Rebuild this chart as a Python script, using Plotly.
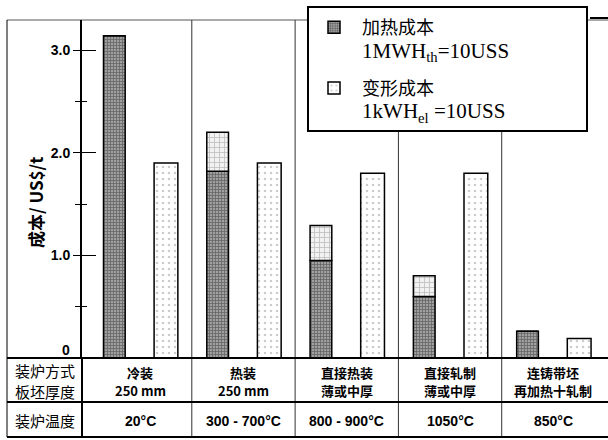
import plotly.graph_objects as go

# ---- data ----
groups = ["冷装", "热装", "直接热装", "直接轧制", "连铸带坯"]
row1_line1 = ["冷装", "热装", "直接热装", "直接轧制", "连铸带坯"]
row1_line2 = ["250 mm", "250 mm", "薄或中厚", "薄或中厚", "再加热十轧制"]
row2_temps = ["20°C", "300 - 700°C", "800 - 900°C", "1050°C", "850°C"]
row_headers = ["装炉方式", "板坯厚度", "装炉温度"]
heating_cost = [3.14, 1.82, 0.95, 0.60, 0.26]
heating_extra = [0.0, 0.38, 0.34, 0.20, 0.0]
deform_cost = [1.90, 1.90, 1.80, 1.80, 0.19]
ytick_vals = [1, 2, 3]
ytick_text = ["1.0", "2.0", "3.0"]

idx = list(range(len(groups)))
heat_x = [i - 0.25 for i in idx]
def_x = [i + 0.25 for i in idx]

W, H = 608, 440
ml, mr, mt, mb = 82, 0, 20, 82
pw, ph = W - ml - mr, H - mt - mb

def px_x(p):  # pixel x -> paper
    return (p - ml) / pw

def px_y(p):  # pixel y -> paper
    return (H - mb - p) / ph

CJK = "Noto Sans CJK SC"
SANS = "Liberation Sans"
SERIF_SPAN = "<span style=\"font-family:Liberation Serif;font-size:21px\">"

fig = go.Figure()
fig.add_trace(go.Bar(
    x=heat_x, y=heating_cost, width=0.21,
    name="&nbsp;&nbsp;加热成本<br>&nbsp;&nbsp;" + SERIF_SPAN + "1MWH<sub>th</sub>=10USS</span>",
    marker=dict(color="#8f8f8f", line=dict(color="black", width=1.5),
                pattern=dict(shape="+", fgcolor="#333333", bgcolor="#a0a0a0", size=3, solidity=0.5)),
    legendgroup="a",
))
fig.add_trace(go.Bar(
    x=heat_x, y=heating_extra, base=heating_cost, width=0.21,
    showlegend=False,
    marker=dict(color="#e0e0e0", line=dict(color="black", width=1.5),
                pattern=dict(shape="+", fgcolor="#8a8a8a", bgcolor="#f2f2f2", size=5, solidity=0.3)),
))
fig.add_trace(go.Bar(
    x=def_x, y=deform_cost, width=0.23,
    name="&nbsp;&nbsp;变形成本<br>&nbsp;&nbsp;" + SERIF_SPAN + "1kWH<sub>el</sub> =10USS</span>",
    marker=dict(color="white", line=dict(color="black", width=1.5),
                pattern=dict(shape=".", fgcolor="#9a9a9a", bgcolor="white", size=6, solidity=0.15)),
    legendgroup="b",
))
# invisible trace for inner tick marks
fig.add_trace(go.Scatter(x=[0], y=[0], yaxis="y2", mode="markers",
                         marker=dict(opacity=0), showlegend=False, hoverinfo="skip"))

yr = [0, (H - mb - mt) / ((H - mb - 50) / 3.0)]
fig.update_layout(
    width=W, height=H,
    margin=dict(l=ml, r=mr, t=mt, b=mb),
    paper_bgcolor="white", plot_bgcolor="white",
    barmode="overlay",
    xaxis=dict(range=[-0.563, 4.529], showticklabels=False, showgrid=False,
               zeroline=False, showline=False, ticks=""),
    yaxis=dict(range=yr, tickvals=ytick_vals, ticktext=ytick_text,
               ticks="outside", ticklen=7, tickwidth=1, tickcolor="black",
               minor=dict(tickvals=[0.5, 1.5, 2.5], ticks="outside", ticklen=5, tickcolor="black"),
               tickfont=dict(family=SANS, size=14, color="black", weight="bold"),
               showgrid=False, zeroline=False, showline=True, linecolor="black", linewidth=2),
    yaxis2=dict(range=yr, overlaying="y", side="left", tickvals=[0, 1, 2, 3],
                ticks="inside", ticklen=14, tickwidth=1, tickcolor="black",
                minor=dict(tickvals=[0.5, 1.5, 2.5], ticks="inside", ticklen=5, tickcolor="black"),
                showticklabels=False, showgrid=False, zeroline=False, showline=False),
    showlegend=True,
    legend=dict(x=px_x(314), y=px_y(9), xanchor="left", yanchor="top",
                bgcolor="rgba(0,0,0,0)", borderwidth=0,
                font=dict(family=CJK, size=18, color="black"),
                valign="top", tracegroupgap=11, traceorder="grouped"),
)

shapes = []
LINE = dict(color="black", width=1)
# legend box
shapes.append(dict(type="rect", xref="paper", yref="paper",
                   x0=px_x(308), x1=px_x(587), y0=px_y(131), y1=px_y(7),
                   line=dict(color="black", width=2), fillcolor="white", layer="above"))
# frame lines
shapes.append(dict(type="line", xref="paper", yref="paper", x0=px_x(7), x1=1, y0=1, y1=1,
                   line=dict(color="#555", width=1), layer="below"))
shapes.append(dict(type="line", xref="paper", yref="paper", x0=px_x(590), x1=1, y0=px_y(18), y1=px_y(18),
                   line=dict(color="black", width=2)))
shapes.append(dict(type="line", xref="paper", yref="paper", x0=px_x(7), x1=px_x(7),
                   y0=px_y(437), y1=1, line=LINE))
shapes.append(dict(type="line", xref="paper", yref="paper", x0=0, x1=0,
                   y0=px_y(437), y1=0, line=dict(color="black", width=2)))
for yy, wd in [(358, 2), (402, 2), (437, 2)]:
    shapes.append(dict(type="line", xref="paper", yref="paper", x0=px_x(7), x1=1,
                       y0=px_y(yy), y1=px_y(yy), line=dict(color="black", width=wd)))
for i in idx[:-1]:
    shapes.append(dict(type="line", xref="x", yref="paper", x0=i + 0.5, x1=i + 0.5,
                       y0=px_y(437), y1=1, line=dict(color="#333", width=1), layer="below"))
fig.update_layout(shapes=shapes)

ann = []
for i in idx:
    ann.append(dict(x=i, y=px_y(372), xref="x", yref="paper", showarrow=False,
                    text=f"<b>{row1_line1[i]}</b>",
                    font=dict(family=CJK, size=13, color="black"),
                    xanchor="center", yanchor="middle"))
    ann.append(dict(x=i, y=px_y(390), xref="x", yref="paper", showarrow=False,
                    text=f"<b>{row1_line2[i]}</b>",
                    font=dict(family=CJK, size=13, color="black"),
                    xanchor="center", yanchor="middle"))
    ann.append(dict(x=i, y=px_y(421), xref="x", yref="paper", showarrow=False,
                    text=f"<b>{row2_temps[i]}</b>",
                    font=dict(family=SANS, size=14, color="black"),
                    xanchor="center", yanchor="middle"))
for txt, yy in zip(row_headers, [370, 391, 420]):
    ann.append(dict(x=px_x(45), y=px_y(yy), xref="paper", yref="paper", showarrow=False,
                    text=txt, font=dict(family=CJK, size=15, color="black"),
                    xanchor="center", yanchor="middle"))
ann.append(dict(x=px_x(72), y=px_y(350), xref="paper", yref="paper", showarrow=False,
                xanchor="right", yanchor="middle", text="<b>0</b>",
                font=dict(family=SANS, size=14, color="black")))
ann.append(dict(x=px_x(35), y=px_y(203), xref="paper", yref="paper", showarrow=False,
                textangle=-90, text="<b>成本/ US$/t</b>", xanchor="center", yanchor="middle",
                font=dict(family=CJK, size=17, color="black")))
fig.update_layout(annotations=ann)

fig.write_html("out.html", config={"displayModeBar": False},
               post_script="document.body.style.margin='0';document.body.style.padding='0';")
